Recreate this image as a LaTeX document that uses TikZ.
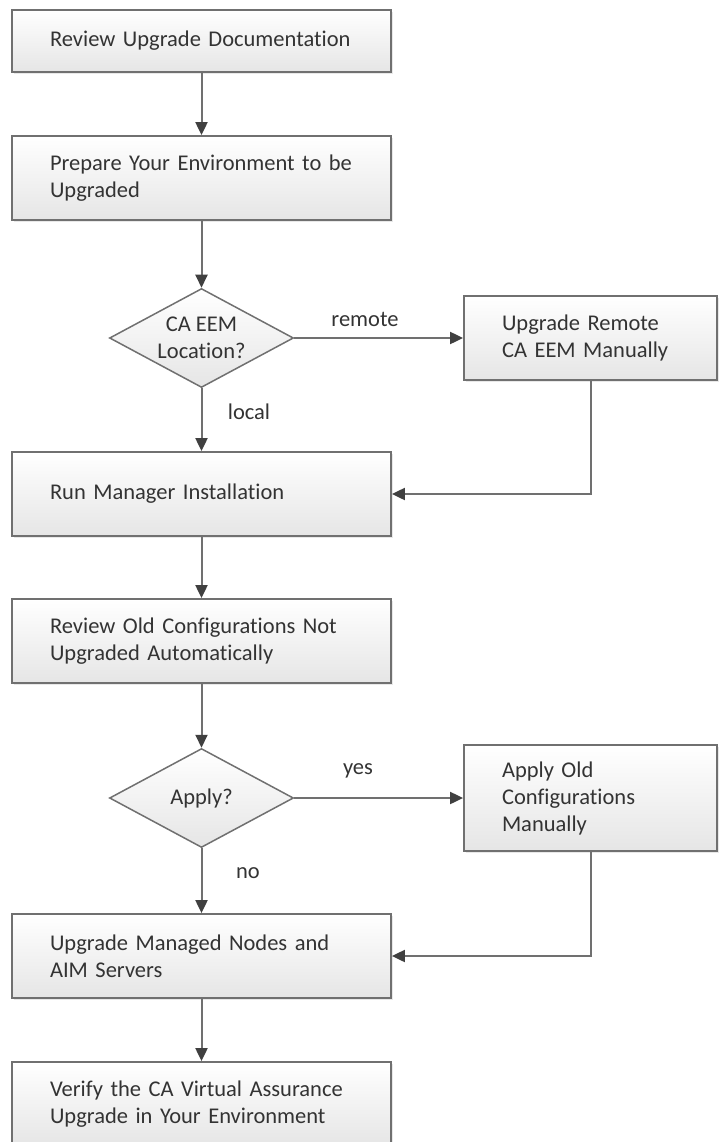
\documentclass[tikz,border=0pt]{standalone}
\usepackage{fontspec}
\setmainfont{Carlito}[Ligatures=NoCommon]
\usetikzlibrary{arrows.meta}
\usetikzlibrary{shapes.geometric}
\usetikzlibrary{shadows}
\definecolor{linegray}{HTML}{707070}
\definecolor{tipgray}{HTML}{404040}
\definecolor{textgray}{HTML}{333333}
\tikzset{proc/.style = {draw=linegray, line width=1.8pt, top color=white, bottom color=black!10, drop shadow={shadow xshift=2pt, shadow yshift=-2pt, opacity=0.18}, text=textgray, align=left, inner xsep=38pt, inner ysep=0pt, text width=303pt, minimum height=84pt, font=\fontsize{22.5}{27}\selectfont}}
\tikzset{side/.style = {proc, text width=177pt}}
\tikzset{dec/.style = {diamond, draw=linegray, line width=1.5pt, top color=white, bottom color=black!10, aspect=1.86, minimum width=184pt, minimum height=99pt, inner sep=0pt, align=center, text=textgray, font=\fontsize{22.5}{27}\selectfont}}
\tikzset{conn/.style = {draw=linegray, line width=2pt, -{Triangle[length=13pt, width=12pt, color=tipgray]}}}
\tikzset{lbl/.style = {text=textgray, inner sep=0pt, font=\fontsize{22.5}{27}\selectfont}}

\begin{document}
\begin{tikzpicture}[x=1pt, y=-1pt]
            \useasboundingbox (0,0) rectangle (721,1142);
            \clip (0,0) rectangle (721,1142);
            \node [proc, minimum height=62pt] (revdoc) at (201.5,41) {Review Upgrade Documentation};
            \node [proc] (prepenv) at (201.5,178) {Prepare Your Environment to be\\Upgraded};
            \node [dec] (eemloc) at (201.5,338) {CA EEM\\Location?};
            \node [side] (upgeem) at (590.5,338) {Upgrade Remote\\CA EEM Manually};
            \node [proc] (runmgr) at (201.5,494) {Run Manager Installation};
            \node [proc] (revold) at (201.5,641) {Review Old Configurations Not\\Upgraded Automatically};
            \node [dec] (apply) at (201.5,798) {Apply?};
            \node [side, minimum height=106pt] (applyold) at (590.5,798) {Apply Old\\Configurations\\Manually};
            \node [proc] (upgnodes) at (201.5,956) {Upgrade Managed Nodes and\\AIM Servers};
            \node [proc] (verify) at (201.5,1104) {Verify the CA Virtual Assurance\\Upgrade in Your Environment};
            \node [lbl] (remote) at (365,319) {remote};
            \node [lbl] (local) at (249,412) {local};
            \node [lbl] (yes) at (358,771) {yes};
            \node [lbl] (no) at (248,873) {no};
            \draw [conn] (revdoc) -- (prepenv);
            \draw [conn] (prepenv) -- (eemloc);
            \draw [conn] (eemloc) -- (upgeem);
            \draw [conn] (eemloc) -- (runmgr);
            \draw [conn] (upgeem.south) |- (runmgr.east);
            \draw [conn] (runmgr) -- (revold);
            \draw [conn] (revold) -- (apply);
            \draw [conn] (apply) -- (applyold);
            \draw [conn] (apply) -- (upgnodes);
            \draw [conn] (applyold.south) |- (upgnodes.east);
            \draw [conn] (upgnodes) -- (verify);
        \end{tikzpicture}
\end{document}
